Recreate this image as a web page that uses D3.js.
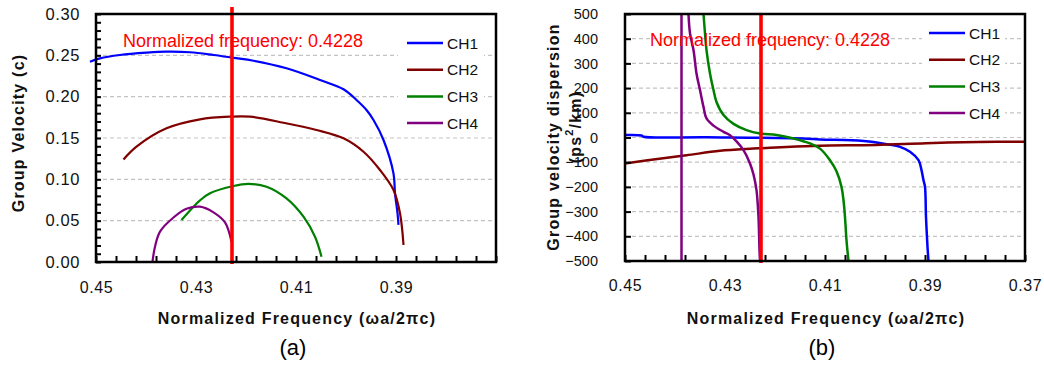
<!DOCTYPE html>
<html>
<head>
<meta charset="utf-8">
<script src="https://cdn.jsdelivr.net/npm/d3@7"></script>
<style>
  body { margin: 0; background: #fff; }
  svg { display: block; }
  text { font-family: "Liberation Sans", Arial, sans-serif; }
</style>
</head>
<body>
<svg id="chart" width="1044" height="366"></svg>
<script>
// ---- data ----
const channels = ["CH1", "CH2", "CH3", "CH4"];
const channelColors = ["#0000ff", "#800000", "#008000", "#800080"];
const markerFreq = 0.4228;
const markerLabel = "Normalized frequency: 0.4228";

const freqTicksA = [0.45, 0.43, 0.41, 0.39];
const freqTicksB = [0.45, 0.43, 0.41, 0.39, 0.37];
const velTicks = [0, 0.05, 0.10, 0.15, 0.20, 0.25, 0.30];
const gvdTicks = [-500, -400, -300, -200, -100, 0, 100, 200, 300, 400, 500];

// group velocity (units of c) vs normalized frequency
const vgCH1 = [[0.4512,0.2423],[0.4492,0.2464],[0.4452,0.2504],[0.4399,0.2532],[0.4359,0.2544],
  [0.4312,0.2537],[0.4265,0.2504],[0.4225,0.2470],[0.4185,0.2435],[0.4119,0.2343],[0.4052,0.2202],
  [0.4005,0.2089],[0.3979,0.1960],[0.3959,0.1839],[0.3945,0.1718],[0.3925,0.1476],[0.3905,0.1070],
  [0.3902,0.0830],[0.3897,0.0590],[0.3895,0.0450]];
const vgCH2 = [[0.4445,0.1240],[0.4419,0.1395],[0.4359,0.1617],[0.4292,0.1726],[0.4232,0.1758],
  [0.4192,0.1758],[0.4125,0.1685],[0.4059,0.1597],[0.4005,0.1496],[0.3965,0.1334],[0.3932,0.1113],
  [0.3905,0.0871],[0.3892,0.0589],[0.3885,0.0206]];
const vgCH3 = [[0.4329,0.0508],[0.4305,0.0669],[0.4292,0.0745],[0.4272,0.0831],[0.4225,0.0919],
  [0.4195,0.0944],[0.4159,0.0911],[0.4119,0.0770],[0.4085,0.0548],[0.4062,0.0306],[0.4049,0.0064]];
const vgCH4 = [[0.4387,0.0004],[0.4382,0.0185],[0.4372,0.0367],[0.4345,0.0538],[0.4319,0.0643],
  [0.4292,0.0669],[0.4265,0.0600],[0.4242,0.0478],[0.4229,0.0246]];

// group velocity dispersion (ps^2/km) vs normalized frequency
const gvdCH1 = [[0.4500,10],[0.4467,8],[0.4463,3],[0.4337,1],[0.4144,-4],[0.4110,-8],[0.4047,-11],
  [0.4003,-18],[0.3977,-27],[0.3950,-38],[0.3930,-58],[0.3913,-92],[0.3907,-132],[0.3903,-173],
  [0.3900,-200],[0.3898,-322],[0.3895,-443],[0.3893,-500]];
const gvdCH2 = [[0.4500,-105],[0.4443,-89],[0.4377,-72],[0.4310,-54],[0.4243,-45],[0.4177,-38],
  [0.4110,-33],[0.3998,-30],[0.3898,-23],[0.3794,-18],[0.3700,-17]];
const gvdCH3 = [[0.4343,500],[0.4340,422],[0.4337,354],[0.4330,259],[0.4323,192],[0.4317,144],
  [0.4303,91],[0.4283,55],[0.4257,30],[0.4230,16],[0.4197,10],[0.4163,-4],[0.4130,-24],[0.4110,-45],
  [0.4090,-92],[0.4077,-137],[0.4067,-200],[0.4063,-254],[0.4060,-322],[0.4057,-416],[0.4053,-500]];
const gvdCH4 = [[0.4387,-500],[0.4387,500],null,[0.4373,500],[0.4370,422],[0.4363,354],[0.4357,259],
  [0.4350,192],[0.4343,124],[0.4337,77],[0.4323,48],[0.4303,23],[0.4290,9],[0.4277,-16],[0.4263,-51],
  [0.4250,-105],[0.4243,-150],[0.4237,-213],[0.4233,-322],[0.4231,-457],[0.4230,-500]];

// ---- drawing ----
const svg = d3.select("#chart");
const FONT = '"Liberation Sans", Arial, sans-serif';

function drawPanel(cfg) {
  const x = d3.scaleLinear().domain([0.45, 0.37]).range(cfg.xRange);
  const y = d3.scaleLinear().domain(cfg.yDomain).range(cfg.yRange);
  const [x0, x1] = cfg.xRange;
  const [yb, yt] = cfg.yRange;
  const g = svg.append("g");

  const clipId = "clip-" + cfg.id;
  svg.append("defs").append("clipPath").attr("id", clipId)
    .append("rect").attr("x", x0).attr("y", yt).attr("width", x1 - x0).attr("height", yb - yt);

  // dashed grid at interior major values
  const gridVals = cfg.yTicks.filter(v => v !== cfg.yDomain[0] && v !== cfg.yDomain[1]);
  g.append("g").selectAll("line").data(gridVals).join("line")
    .attr("x1", x0).attr("x2", x1).attr("y1", d => y(d)).attr("y2", d => y(d))
    .attr("stroke", "#c4c4c4").attr("stroke-width", 1.2).attr("stroke-dasharray", "4,3");

  // legend background
  g.append("rect").attr("x", cfg.legend.bx).attr("y", cfg.legend.by)
    .attr("width", cfg.legend.bw).attr("height", cfg.legend.bh).attr("fill", "#fff");

  // curves
  const line = d3.line().defined(d => d !== null).x(d => x(d[0])).y(d => y(d[1]))
    .curve(d3.curveCatmullRom.alpha(0.5));
  const curves = g.append("g");
  if (cfg.clip) curves.attr("clip-path", `url(#${clipId})`);
  cfg.series.forEach((s, i) => {
    curves.append("path").datum(s).attr("d", line).attr("fill", "none")
      .attr("stroke", channelColors[i]).attr("stroke-width", cfg.lineWidth)
      .attr("stroke-linejoin", "round");
  });

  // marker line at the selected frequency
  g.append("line").attr("x1", x(markerFreq)).attr("x2", x(markerFreq))
    .attr("y1", yt - cfg.markerOver).attr("y2", yb + 2)
    .attr("stroke", "#ff0000").attr("stroke-width", 3.6);

  // legend
  channels.forEach((c, i) => {
    const ly = cfg.legend.y0 + i * 26.7;
    g.append("line").attr("x1", cfg.legend.lx).attr("x2", cfg.legend.lx + 36)
      .attr("y1", ly).attr("y2", ly).attr("stroke", channelColors[i]).attr("stroke-width", 2.5);
    g.append("text").attr("x", cfg.legend.lx + 40).attr("y", ly + 5.5)
      .attr("font-size", 15.5).attr("fill", "#111").text(c);
  });

  // frame
  g.append("rect").attr("x", x0).attr("y", yt).attr("width", x1 - x0).attr("height", yb - yt)
    .attr("fill", "none").attr("stroke", "#000").attr("stroke-width", 2.5);

  // x axis: inward minor ticks every 0.004, labels at the majors
  const xMinor = d3.range(0, 21).map(i => +(0.45 - i * 0.004).toFixed(3));
  const xa = g.append("g").attr("transform", `translate(0,${yb})`)
    .call(d3.axisBottom(x).tickValues(xMinor).tickSize(-6).tickPadding(cfg.xPad)
      .tickFormat(v => cfg.xLabels.some(m => Math.abs(m - v) < 1e-9) ? d3.format(".2f")(v) : ""));
  xa.select(".domain").remove();
  xa.selectAll(".tick line").attr("stroke", "#000").attr("stroke-width", 2);
  xa.selectAll("text").attr("font-size", 16).attr("letter-spacing", 0.6)
    .attr("fill", "#111").attr("font-family", FONT);

  // y axis: inward ticks, labels at the majors
  const ya = g.append("g").attr("transform", `translate(${x0},0)`)
    .call(d3.axisLeft(y).tickValues(cfg.yMinor).tickSize(-cfg.yTickLen).tickPadding(cfg.yPad)
      .tickFormat(v => cfg.yTicks.some(m => Math.abs(m - v) < 1e-9) ? cfg.yFormat(v) : ""));
  ya.select(".domain").remove();
  ya.selectAll(".tick line").attr("stroke", "#000").attr("stroke-width", 2);
  ya.selectAll("text").attr("font-size", cfg.yFont).attr("letter-spacing", cfg.yLetter)
    .attr("fill", "#111").attr("font-family", FONT);

  // marker label
  g.append("text").attr("x", cfg.labelX).attr("y", cfg.labelY)
    .attr("font-size", 18).attr("fill", "#ff0000").text(markerLabel);

  // axis titles
  const cx = (x0 + x1) / 2;
  g.append("text").attr("x", cx + 1).attr("y", 324).attr("text-anchor", "middle")
    .attr("font-size", 16).attr("font-weight", "bold").attr("letter-spacing", 1.2)
    .attr("fill", "#111").text("Normalized Frequency (\u03c9a/2\u03c0c)");

  cfg.yTitle.forEach(t => {
    const txt = g.append("text").attr("transform", `translate(${t.x},${t.y}) rotate(-90)`)
      .attr("text-anchor", "middle").attr("dominant-baseline", "central")
      .attr("font-size", 16).attr("font-weight", "bold").attr("letter-spacing", 1.2).attr("fill", "#111");
    t.parts.forEach(p => {
      const sp = txt.append("tspan").text(p.t);
      if (p.sup) sp.attr("baseline-shift", "super").attr("font-size", 11);
    });
  });

  // panel caption
  g.append("text").attr("x", cx - 3).attr("y", 355).attr("text-anchor", "middle")
    .attr("font-family", '"Liberation Serif", "Times New Roman", serif').attr("font-size", 22)
    .attr("fill", "#000").text(cfg.caption);
}

drawPanel({
  id: "a",
  xRange: [96, 496], yRange: [262, 14], yDomain: [0, 0.30],
  yTicks: velTicks, yMinor: d3.range(0, 31).map(i => +(i * 0.01).toFixed(2)),
  yFormat: d3.format(".2f"), yFont: 16.5, yLetter: 0.6, yPad: 16, yTickLen: 5,
  xLabels: freqTicksA, xPad: 20,
  series: [vgCH1, vgCH2, vgCH3, vgCH4], lineWidth: 2.2, clip: false,
  markerOver: 7,
  legend: { bx: 398, by: 30, bw: 86, bh: 104, lx: 407, y0: 43 },
  labelX: 123, labelY: 47,
  yTitle: [{ x: 18, y: 133, parts: [{ t: "Group Velocity (c)" }] }],
  caption: "(a)"
});

drawPanel({
  id: "b",
  xRange: [625, 1025], yRange: [261, 14], yDomain: [-500, 500],
  yTicks: gvdTicks, yMinor: gvdTicks,
  yFormat: d3.format("d"), yFont: 14.5, yLetter: 0, yPad: 27, yTickLen: 6,
  xLabels: freqTicksB, xPad: 19,
  series: [gvdCH1, gvdCH2, gvdCH3, gvdCH4], lineWidth: 2.5, clip: true,
  markerOver: 0,
  legend: { bx: 922, by: 20, bw: 83, bh: 105, lx: 929, y0: 33 },
  labelX: 650, labelY: 46,
  yTitle: [
    { x: 553, y: 137, parts: [{ t: "Group velocity dispersion" }] },
    { x: 575, y: 127, parts: [{ t: "(ps" }, { t: "2", sup: true }, { t: "/km)" }] }
  ],
  caption: "(b)"
});
</script>
</body>
</html>
